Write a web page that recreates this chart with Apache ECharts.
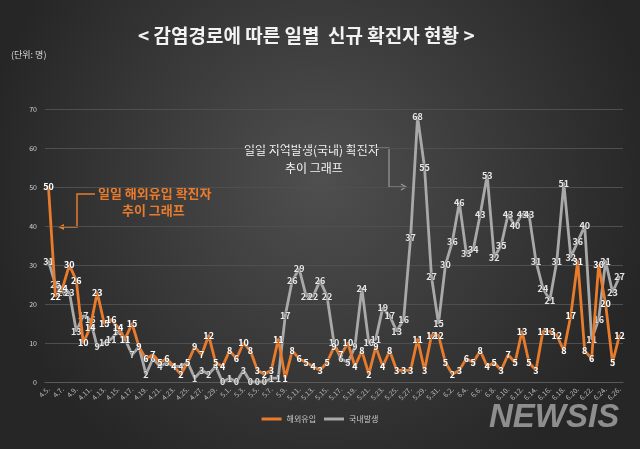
<!DOCTYPE html>
<html><head><meta charset="utf-8">
<script src="https://cdn.jsdelivr.net/npm/echarts@6/dist/echarts.min.js"></script>
<style>html,body{margin:0;padding:0;background:#333;}#c{width:640px;height:449px;}</style>
</head><body><div id="c"></div>
<script>
const dates = ["4.5.","4.6.","4.7.","4.8.","4.9.","4.10.","4.11.","4.12.","4.13.","4.14.","4.15.","4.16.","4.17.","4.18.","4.19.","4.20.","4.21.","4.22.","4.23.","4.24.","4.25.","4.26.","4.27.","4.28.","4.29.","4.30.",
"5.1.","5.2.","5.3.","5.4.","5.5.","5.6.","5.7.","5.8.","5.9.","5.10.","5.11.","5.12.","5.13.","5.14.","5.15.","5.16.","5.17.","5.18.","5.19.","5.20.","5.21.","5.22.","5.23.","5.24.","5.25.","5.26.","5.27.","5.28.","5.29.","5.30.","5.31.",
"6.1.","6.2.","6.3.","6.4.","6.5.","6.6.","6.7.","6.8.","6.9.","6.10.","6.11.","6.12.","6.13.","6.14.","6.15.","6.16.","6.17.","6.18.","6.19.","6.20.","6.21.","6.22.","6.23.","6.24.","6.25.","6.26."];
const imported = [50,22,24,30,26,10,14,23,15,16,14,11,15,9,6,7,5,6,4,2,5,9,7,12,5,4,
8,6,10,8,3,2,3,11,1,8,6,5,4,3,5,9,7,10,4,8,2,9,4,8,3,3,3,11,3,12,12,
5,2,3,6,5,8,4,5,3,7,5,13,5,3,13,13,12,8,17,31,8,6,30,20,5,12];
const domestic = [31,25,23,23,13,17,16,9,10,11,13,11,7,9,2,6,4,5,4,4,5,1,3,2,4,0,
1,0,3,0,0,0,1,1,17,26,29,22,22,26,22,10,6,5,9,24,10,11,19,17,13,16,37,68,55,27,15,
30,36,46,33,34,43,53,32,35,43,40,43,43,31,24,21,31,51,32,36,40,11,16,31,23,27];
const yTicks = [0,10,20,30,40,50,60,70];
const seriesNames = ["해외유입","국내발생"];

const chart = echarts.init(document.getElementById('c'), null, {renderer:'canvas'});
const FONT = '"Noto Sans CJK KR", "Noto Sans", sans-serif';
const orange = '#E87B2C', grey = '#A9A9A9';
chart.setOption({
  animation:false,
  backgroundColor:{type:'radial',x:0.5,y:0.4,r:0.75,colorStops:[{offset:0,color:'#4f4f4f'},{offset:1,color:'#262626'}]},
  textStyle:{fontFamily:FONT},
  title:{text:'< 감염경로에 따른 일별  신규 확진자 현황 >',left:133,top:21,
    textStyle:{color:'#f2f2f2',fontSize:19,fontWeight:'bold',fontFamily:FONT}},
  grid:{left:45,right:17,top:109,bottom:67,containLabel:false},
  legend:{bottom:21,left:'center',itemWidth:20,itemHeight:3,itemGap:8,
    icon:'rect',
    textStyle:{color:'#c8c8c8',fontSize:8,fontFamily:FONT},
    data:seriesNames},
  xAxis:{type:'category',data:dates,boundaryGap:true,
    axisLine:{show:true,lineStyle:{color:'#5a5a5a'}},axisTick:{show:false},
    axisLabel:{interval:1,rotate:45,fontSize:7,color:'#bdbdbd',margin:6}},
  yAxis:{type:'value',min:0,max:70,interval:10,
    axisLine:{show:false},axisTick:{show:false},
    axisLabel:{fontSize:7,color:'#d0d0d0',margin:8,
      formatter:v=>yTicks.includes(v)?String(v):''},
    splitLine:{lineStyle:{color:'#4f4f4f',width:1}}},
  series:[
    {name:seriesNames[0],type:'line',data:imported,z:3,
      symbol:'circle',symbolSize:2,itemStyle:{color:orange},
      lineStyle:{color:orange,width:2.8},
      label:{show:true,position:'inside',color:'#ffffff',fontSize:9,fontWeight:'bold',fontFamily:FONT,
        textBorderColor:'rgba(60,60,60,0.6)',textBorderWidth:1}},
    {name:seriesNames[1],type:'line',data:domestic,z:2,
      symbol:'circle',symbolSize:2,itemStyle:{color:grey},
      lineStyle:{color:grey,width:2.8},
      label:{show:true,position:'inside',color:'#e6e6e6',fontSize:9,fontWeight:'bold',fontFamily:FONT,
        textBorderColor:'rgba(60,60,60,0.6)',textBorderWidth:1}}
  ],
  graphic:[
    {type:'text',left:11,top:50,style:{text:'(단위: 명)',fill:'#d8d8d8',font:'9px '+FONT}},
    {type:'text',left:98,top:187,style:{text:'일일 해외유입 확진자',fill:orange,font:'bold 13px '+FONT}},
    {type:'text',left:122,top:204,style:{text:'추이 그래프',fill:orange,font:'bold 13px '+FONT}},
    {type:'polyline',shape:{points:[[95,194],[77,194],[77,227],[62,227]]},style:{stroke:orange,lineWidth:1.5,fill:null}},
    {type:'polygon',shape:{points:[[58,227],[64,224],[64,230]]},style:{fill:orange}},
    {type:'text',left:244,top:144,style:{text:'일일 지역발생(국내) 확진자',fill:'#f4f4f4',font:'12px '+FONT}},
    {type:'text',left:285,top:162,style:{text:'추이 그래프',fill:'#f4f4f4',font:'12px '+FONT}},
    {type:'polyline',shape:{points:[[374,148],[389,148],[389,187],[404,187]]},style:{stroke:'#9a9a9a',lineWidth:1.2,fill:null}},
    {type:'polyline',shape:{points:[[401,184],[406,187],[401,190]]},style:{stroke:'#9a9a9a',lineWidth:1.2,fill:null}},
    {type:'text',left:489,top:401,style:{text:'NEWSIS',fill:'#8e8e8e',font:'italic bold 33px "Liberation Sans", Arial, sans-serif'}}
  ]
});
</script></body></html>
